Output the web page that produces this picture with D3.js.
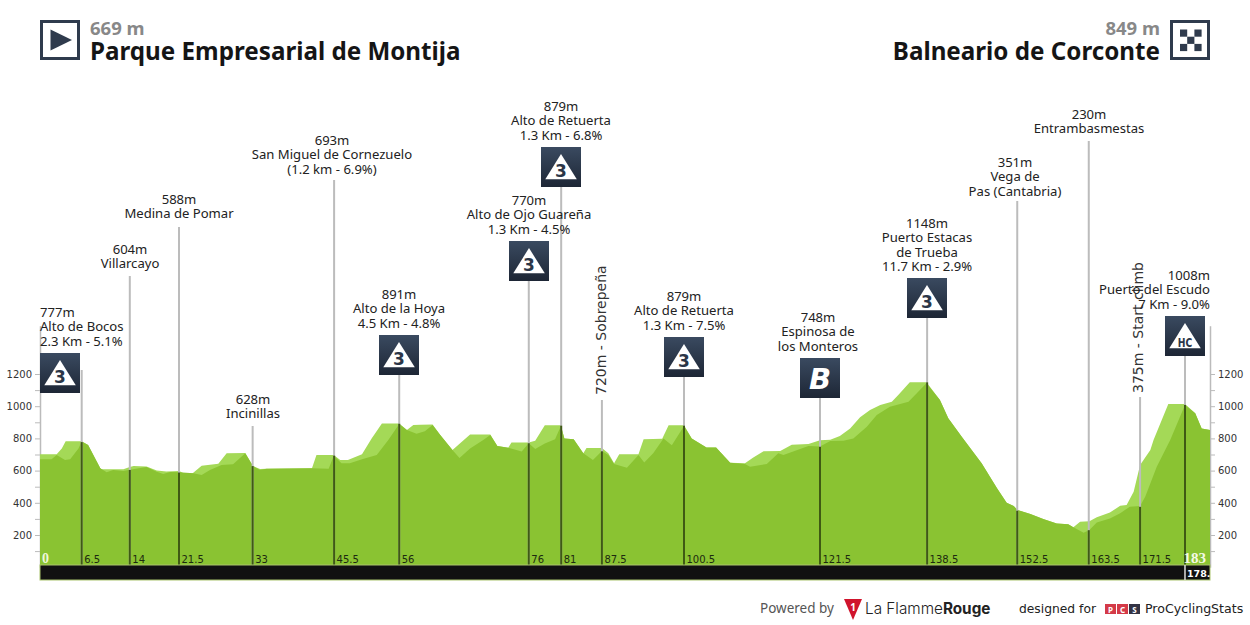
<!DOCTYPE html>
<html>
<head>
<meta charset="utf-8">
<script src="https://cdn.jsdelivr.net/npm/d3@7"></script>
<style>
  body { margin: 0; background: #fff; }
  svg { display: block; }
  text { font-family: "Noto Sans", sans-serif; }
  .lbl { font-size: 13.1px; fill: #222; }
  .side { font-family: "DejaVu Sans"; font-size: 14px; fill: #333; }
  .axis text { font-family: "DejaVu Sans"; font-size: 10px; fill: #333; }
  .axis path, .axis line { stroke: #bbb; }
  .km { font-family: "DejaVu Sans"; font-size: 10px; fill: #1d2a10; }
</style>
</head>
<body>
<svg id="chart" width="1250" height="625"></svg>
<script>
// upper edge of the profile, light green band, [km, metres]
const lightEdge = [[0,701],[2.6,701],[3.4,738],[4,782],[6.5,782],[7.5,759],[9.4,614],[9.6,608],[13,608],[14,622],[14.6,628],[16.6,626],[18.2,600],[19.7,595],[21.7,597],[22.3,585],[23.8,583],[25.2,630],[27.8,643],[29.1,707],[32,709],[33.2,628],[34.3,610],[35.3,612],[42.4,614],[43.1,697],[45.8,697],[46.8,666],[48,666],[50.2,701],[51.7,800],[53.3,893],[56,893],[57.2,852],[58.2,883],[59.3,885],[61.2,887],[62.4,821],[64.3,728],[67.05,825],[70.2,825],[71.3,753],[73,742],[73.5,775],[76.2,775],[77.2,786],[78.7,881],[81.2,881],[81.75,800],[83.2,794],[84.7,707],[85.2,740],[87.6,740],[88.6,707],[89.5,645],[90.3,701],[93.3,701],[94.1,794],[97,798],[98,881],[100.4,881],[101.6,800],[103.9,744],[105.4,744],[107.6,649],[109.9,645],[111.2,682],[112.8,720],[115.4,722],[117.2,761],[119.8,765],[121.6,788],[123.2,792],[124.7,815],[126.3,862],[127.85,931],[129.4,976],[131,1007],[132.8,1028],[133.8,1069],[135.6,1148],[138.2,1148],[140.3,1038],[141.6,925],[143.7,811],[146.8,645],[149.2,490],[150.7,401],[151.8,380],[152.4,355],[154.4,330],[156.4,299],[158.5,272],[160.3,266],[161.1,248],[162.15,283],[163.6,285],[164.75,310],[166.8,339],[168.4,382],[169.4,386],[170.5,469],[171.5,635],[173.1,728],[173.6,790],[175.9,1013],[178.5,1013],[180.1,956],[181.1,862],[182.4,852]];

// upper edge of the darker body of the profile, [km, metres]
const darkEdge = [[0,670],[1.8,670],[2.6,697],[3.9,666],[4.7,670],[6,738],[6.5,780],[7.5,759],[9.4,614],[10.4,589],[11.4,604],[13,597],[14,606],[16.6,622],[18.2,593],[19.2,579],[20.3,591],[21.7,589],[23.9,583],[25.2,573],[26.5,604],[28.3,635],[30.1,639],[32,707],[33.2,628],[34.3,604],[35.3,612],[42.4,614],[45,612],[45.8,693],[47,645],[48.3,645],[50.2,670],[52.5,697],[54.3,790],[56,889],[57.2,852],[58.7,829],[60,845],[61.2,883],[62.4,821],[64.3,728],[65.4,678],[67.05,738],[69.1,790],[70.2,821],[71.3,753],[73,742],[75.1,718],[76.2,770],[77.2,734],[78.7,769],[80.3,794],[81.2,877],[81.75,800],[83.2,794],[84.7,707],[86.2,666],[87.6,722],[88.6,697],[89.5,641],[91.5,618],[93.3,697],[94.2,651],[95.6,707],[97.2,800],[98.5,757],[100.4,877],[101.6,800],[103.9,744],[105.4,744],[107.6,649],[109.9,641],[110.7,624],[113.3,641],[115.1,707],[115.9,697],[119.8,753],[121.6,749],[123.2,784],[125.25,786],[126.8,800],[128.9,873],[130.45,945],[132.5,997],[135.4,1028],[138.2,1142],[140.3,1038],[141.6,925],[143.7,811],[146.8,645],[149.2,490],[150.7,401],[151.8,380],[152.4,355],[154.4,330],[156.4,299],[158.5,272],[160.3,266],[161.1,248],[162.7,214],[163.6,231],[164.75,277],[166.8,303],[168.4,335],[169.9,376],[171.5,380],[172.3,438],[174.1,624],[176.2,790],[178.5,1007],[180.1,956],[181.1,862],[182.4,852]];

// where the stems stand, and the rounded km printed beside them
const stopKm = [6.5, 14, 21.67, 33.15, 45.85, 56, 76.2, 81.25, 87.6, 100.4, 121.6, 138.3, 152.35, 163.5, 171.5, 178.5];
const stopKmLabels = ["6.5", "14", "21.5", "33", "45.5", "56", "76", "81", "87.5", "100.5", "121.5", "138.5", "152.5", "163.5", "171.5"];
const stopElev = [777, 604, 588, 628, 693, 891, 770, 879, 720, 879, 748, 1148, 351, 230, 375, 1008];
const stopNames = [
  ["777m", "Alto de Bocos", "2.3 Km - 5.1%"],
  ["604m", "Villarcayo"],
  ["588m", "Medina de Pomar"],
  ["628m", "Incinillas"],
  ["693m", "San Miguel de Cornezuelo", "(1.2 km - 6.9%)"],
  ["891m", "Alto de la Hoya", "4.5 Km - 4.8%"],
  ["770m", "Alto de Ojo Guareña", "1.3 Km - 4.5%"],
  ["879m", "Alto de Retuerta", "1.3 Km - 6.8%"],
  ["720m  -  Sobrepeña"],
  ["879m", "Alto de Retuerta", "1.3 Km - 7.5%"],
  ["748m", "Espinosa de", "los Monteros"],
  ["1148m", "Puerto Estacas", "de Trueba", "11.7 Km - 2.9%"],
  ["351m", "Vega de", "Pas (Cantabria)"],
  ["230m", "Entrambasmestas"],
  ["375m  -  Start climb"],
  ["1008m", "Puerto del Escudo", "7 Km - 9.0%"]
];
const stopBadges = ["3", "", "", "", "", "3", "3", "3", "", "3", "B", "3", "", "", "", "HC"];

const elevTicks = [100, 200, 300, 400, 500, 600, 700, 800, 900, 1000, 1100, 1200];

// page layout, per stop: top of the stem, first text line, text anchor x
const stemTop = [370, 276, 227, 426, 180, 375, 281, 187, 400, 377, 398, 318, 201, 141, 397, 356];
const textTop = [312, 249, 199, 399, 140, 294, 200, 106, 395, 296, 317, 223, 162, 114, 393, 275];
const textX = [40, 130, 179, 253, 332, 399, 529, 561, 601, 684, 818, 927, 1015, 1089, 1138, 1210];
const badgeX = [40, 0, 0, 0, 0, 379, 509, 541, 0, 664, 800, 907, 0, 0, 0, 1165];

const left = 40, right = 1210, base = 565, barH = 15;
const svg = d3.select("#chart");
const x = d3.scaleLinear().domain([0, 182.4]).range([left, right]);
const y = d3.scaleLinear().domain([0, 1500]).range([567.2, 325.7]);

const defs = svg.append("defs");
const grad = defs.append("linearGradient").attr("id", "badge").attr("x1", 0).attr("x2", 0).attr("y1", 0).attr("y2", 1);
grad.append("stop").attr("offset", "0%").attr("stop-color", "#3a4a60");
grad.append("stop").attr("offset", "100%").attr("stop-color", "#1d2635");

// axes, both sides
const fmt = (d) => (d % 200 === 0 ? d : "");
const axL = svg.append("g").attr("class", "axis").attr("transform", `translate(${left},0)`)
  .call(d3.axisLeft(y).tickValues(elevTicks).tickFormat(fmt).tickSize(5).tickSizeOuter(0).tickPadding(3));
const axR = svg.append("g").attr("class", "axis").attr("transform", `translate(${right},0)`)
  .call(d3.axisRight(y).tickValues(elevTicks).tickFormat(fmt).tickSize(5).tickSizeOuter(0).tickPadding(3));
axL.select("path").attr("stroke-width", 1.5);
axR.select("path").attr("stroke-width", 1.5);

// profile
const area = d3.area().x((d) => x(d[0])).y0(base).y1((d) => y(d[1]));
svg.append("path").datum(lightEdge).attr("d", area).attr("fill", "#a4d957");
svg.append("path").datum(darkEdge).attr("d", area).attr("fill", "#8ac332");

// stems: grey above the road, dark inside the profile
svg.append("g").selectAll("line").data(stopKm).join("line")
  .attr("x1", (d) => x(d)).attr("x2", (d) => x(d))
  .attr("y1", (d, i) => stemTop[i]).attr("y2", base)
  .attr("stroke", "#bcbcbc").attr("stroke-width", 2);
svg.append("g").selectAll("line").data(stopKm).join("line")
  .attr("x1", (d) => x(d)).attr("x2", (d) => x(d))
  .attr("y1", (d, i) => y(stopElev[i])).attr("y2", base)
  .attr("stroke", "#3f5a14").attr("stroke-width", 2);

// km labels and bottom bar
svg.append("rect").attr("x", left).attr("y", base).attr("width", right - left).attr("height", barH)
  .attr("fill", "#111").attr("stroke", "#a9c46c").attr("stroke-width", 1);
svg.append("g").selectAll("text").data(stopKmLabels).join("text")
  .attr("class", "km").attr("x", (d, i) => x(stopKm[i]) + 2.5).attr("y", 563).text((d) => d);
svg.append("line").attr("x1", x(178.5)).attr("x2", x(178.5)).attr("y1", base).attr("y2", base + barH)
  .attr("stroke", "#ddd").attr("stroke-width", 1.5);
svg.append("text").attr("class", "km")
  .attr("x", x(178.5) + 2).attr("y", 577).style("fill", "#fff").style("font-weight", "bold").style("font-size", "9.5px").text("178.");
svg.append("text").attr("x", left + 2).attr("y", 563).attr("fill", "#eef7d8")
  .style("font-family", "Liberation Serif").style("font-size", "14px").style("font-weight", "bold").text("0");
svg.append("text").attr("x", right - 4).attr("y", 563).attr("text-anchor", "end").attr("fill", "#f4f9e6")
  .style("font-family", "Liberation Serif").style("font-size", "15px").style("font-weight", "bold").text("183");

// stop texts
stopNames.forEach((lines, i) => {
  if (lines.length === 1) {
    svg.append("text").attr("class", "side")
      .attr("transform", `translate(${textX[i] + 5},${textTop[i]}) rotate(-90)`).text(lines[0]);
    return;
  }
  const anchor = i === 0 ? "start" : i === 15 ? "end" : "middle";
  svg.append("g").selectAll("text").data(lines).join("text")
    .attr("class", "lbl").attr("text-anchor", anchor)
    .attr("x", textX[i]).attr("y", (d, j) => textTop[i] + 5 + j * 14.3).text((d) => d);
});

// badges
stopBadges.forEach((b, i) => {
  if (!b) return;
  const top = stemTop[i] - 40;
  const g = svg.append("g").attr("transform", `translate(${badgeX[i]},${i === 0 ? 353 : top})`);
  g.append("rect").attr("width", 40).attr("height", 40).attr("fill", "url(#badge)");
  if (b === "B") {
    g.append("text").attr("x", 20).attr("y", 31).attr("text-anchor", "middle").attr("fill", "#fff")
      .style("font-family", "DejaVu Sans").style("font-size", "29px").style("font-weight", "bold").style("font-style", "italic").text("B");
    return;
  }
  g.append("path").attr("d", "M20,7L35.8,32.3H4.3Z").attr("fill", "#fff");
  const t = g.append("text").attr("x", 20).attr("y", b === "HC" ? 30.7 : 29.5).attr("text-anchor", "middle").attr("fill", "#2b3648")
    .style("font-family", "DejaVu Sans").style("font-weight", "bold")
    .style("font-size", b === "HC" ? "12.7px" : "17px").text(b);
  if (b === "HC") t.attr("textLength", 14.5).attr("lengthAdjust", "spacingAndGlyphs");
});

// header
const startBox = svg.append("g").attr("transform", "translate(40,20)");
startBox.append("rect").attr("x", 1.5).attr("y", 1.5).attr("width", 37).attr("height", 37).attr("fill", "#fff").attr("stroke", "#2f3b4d").attr("stroke-width", 3);
startBox.append("path").attr("d", "M10.5,9.5L32,20L10.5,30.5Z").attr("fill", "#2f3b4d");
svg.append("text").attr("x", 90).attr("y", 35).attr("fill", "#888").style("font-size", "18.5px").style("font-weight", "bold").text("669 m");
svg.append("text").attr("x", 90).attr("y", 60).attr("fill", "#151515").style("font-size", "24.2px").style("font-weight", "bold").text("Parque Empresarial de Montija");

const endBox = svg.append("g").attr("transform", "translate(1170,20)");
endBox.append("rect").attr("x", 1.5).attr("y", 1.5).attr("width", 37).attr("height", 37).attr("fill", "#fff").attr("stroke", "#2f3b4d").attr("stroke-width", 3);
d3.range(9).filter((k) => k % 2 === 0).forEach((k) => {
  endBox.append("rect").attr("x", 10 + (k % 3) * 7.2).attr("y", 9.5 + Math.floor(k / 3) * 7.2)
    .attr("width", 7.2).attr("height", 7.2).attr("fill", "#2f3b4d");
});
svg.append("text").attr("x", 1160).attr("y", 35).attr("text-anchor", "end").attr("fill", "#888").style("font-size", "18.5px").style("font-weight", "bold").text("849 m");
svg.append("text").attr("x", 1160).attr("y", 60).attr("text-anchor", "end").attr("fill", "#151515").style("font-size", "24.2px").style("font-weight", "bold").text("Balneario de Corconte");

// footer
svg.append("text").attr("x", 760).attr("y", 613).attr("fill", "#555").style("font-size", "13.5px").text("Powered by");
svg.append("path").attr("d", "M844,599H862L853,620Z").attr("fill", "#d0142c");
svg.append("text").attr("x", 853).attr("y", 611).attr("text-anchor", "middle").attr("fill", "#fff").style("font-size", "10px").style("font-weight", "bold").text("1");
const brand = svg.append("text").attr("x", 865).attr("y", 614).attr("fill", "#222").style("font-family", "Inter").style("font-size", "15.3px");
brand.append("tspan").style("font-weight", 300).text("La Flamme");
brand.append("tspan").style("font-weight", 700).text("Rouge");
svg.append("text").attr("x", 1019).attr("y", 613).attr("fill", "#222").style("font-family", "DejaVu Sans").style("font-size", "12.3px").text("designed for");
["P", "C", "S"].forEach((c, i) => {
  svg.append("rect").attr("x", 1105 + i * 12).attr("y", 604).attr("width", 11).attr("height", 10).attr("fill", i < 2 ? "#d43a48" : "#334");
  svg.append("text").attr("x", 1110.5 + i * 12).attr("y", 612.5).attr("text-anchor", "middle").attr("fill", "#fff")
    .style("font-size", "8px").style("font-weight", "bold").text(c);
});
svg.append("text").attr("x", 1145).attr("y", 613).attr("fill", "#222").style("font-family", "DejaVu Sans").style("font-size", "12.6px").text("ProCyclingStats");
</script>
</body>
</html>
